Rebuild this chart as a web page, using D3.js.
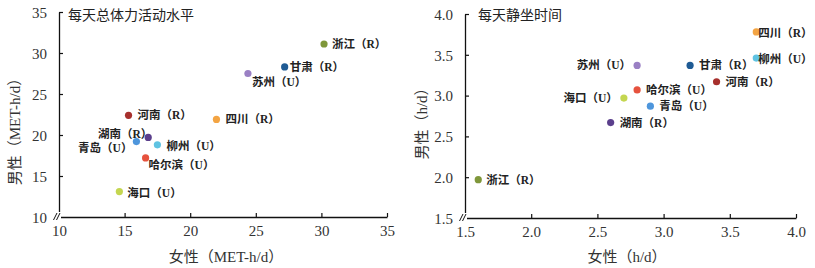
<!DOCTYPE html>
<html>
<head>
<meta charset="utf-8">
<script src="https://cdn.jsdelivr.net/npm/d3@7/dist/d3.min.js"></script>
<style>
  html, body { margin: 0; padding: 0; background: #fff; }
  svg { display: block; }
</style>
</head>
<body>
<svg id="chart" width="815" height="268"></svg>
<script>
// ---- data ----
const cities = ["浙江", "甘肃", "苏州", "河南", "四川", "湖南", "青岛", "柳州", "哈尔滨", "海口"];
const areaType = ["R", "R", "U", "R", "R", "R", "U", "U", "U", "U"];
const paFemale = [30.2, 27.2, 24.4, 15.3, 22.0, 16.8, 15.9, 17.5, 16.6, 14.6];
const paMale   = [31.1, 28.3, 27.5, 22.4, 21.9, 19.7, 19.2, 18.8, 17.2, 13.1];
const sitFemale = [1.6, 3.2, 2.8, 3.4, 3.7, 2.6, 2.9, 3.7, 2.8, 2.7];
const sitMale   = [1.97, 3.37, 3.37, 3.17, 3.78, 2.67, 2.87, 3.46, 3.07, 2.97];
const paTicks = [10, 15, 20, 25, 30, 35];
const sitTicks = [1.5, 2.0, 2.5, 3.0, 3.5, 4.0];
const colors = ["#7f973a", "#1f5b94", "#9a80c4", "#a7302d", "#f3a443", "#5b3f8c", "#4e96dc", "#5fc3e2", "#e6523e", "#c4d650"];

// ---- label placement (style) ----
// [anchor, dx, dy]
const paLabelPos = [
  ["start", 8, 0], ["start", 5, 0], ["start", 4, 8], ["start", 9, 0], ["start", 9, 0],
  ["end", 4, -3], ["end", -4, 6], ["start", 9, 1], ["start", 3, 7], ["start", 8, 1]
];
const sitLabelPos = [
  ["start", 8, 0], ["start", 9, 0], ["end", -6, 0], ["start", 9, 0], ["start", 2, 1],
  ["start", 9, 0], ["start", 9, 0], ["start", 2, 1], ["start", 9, 0], ["end", -6, 0]
];

const svg = d3.select("#chart");
const CJK = "'Noto Sans CJK SC', 'Noto Sans', sans-serif";
const SERIF = "'Liberation Serif', 'DejaVu Serif', " + CJK;

function panel(opts) {
  const x = d3.scaleLinear().domain(opts.xDomain).range(opts.xRange);
  const y = d3.scaleLinear().domain(opts.yDomain).range(opts.yRange);
  const g = svg.append("g");

  const fmt = opts.fmt;
  const xAxis = d3.axisBottom(x).tickValues(opts.ticks).tickFormat(fmt)
    .tickSizeInner(-4).tickSizeOuter(0).tickPadding(8);
  const yAxis = d3.axisLeft(y).tickValues(opts.ticks).tickFormat(fmt)
    .tickSizeInner(-4).tickSizeOuter(0).tickPadding(12);

  const gx = g.append("g").attr("transform", `translate(0,${opts.yRange[0]})`).call(xAxis);
  const gy = g.append("g").attr("transform", `translate(${opts.xRange[0]},0)`).call(yAxis);
  [gx, gy].forEach(a => {
    a.selectAll("path.domain").attr("stroke", "#111").attr("stroke-width", 1.3);
    a.selectAll(".tick line").attr("stroke", "#111").attr("stroke-width", 1.2);
    a.selectAll(".tick text").attr("font-family", SERIF).attr("font-size", 15).attr("fill", "#333");
  });
  // hide the first tick marks at the origin
  gx.selectAll(".tick").filter((d, i) => i === 0).select("line").remove();
  gy.selectAll(".tick").filter((d, i) => i === 0).select("line").remove();
  // y tick labels vertical alignment
  gy.selectAll(".tick text").attr("dy", "0.35em");
  gx.selectAll(".tick text").attr("dy", "0.71em");

  // axis break mark at origin
  const ox = opts.xRange[0], oy = opts.yRange[0];
  g.append("rect").attr("x", ox - 2).attr("y", oy - 5).attr("width", 4).attr("height", 7).attr("fill", "#fff");
  g.append("rect").attr("x", ox - 2).attr("y", oy - 2).attr("width", 3.5).attr("height", 4).attr("fill", "#fff");
  [[-4, 0], [-1, 0]].forEach(([dx]) => {
    g.append("line")
      .attr("x1", ox + dx - 1.5).attr("y1", oy + 3)
      .attr("x2", ox + dx + 2).attr("y2", oy - 4)
      .attr("stroke", "#111").attr("stroke-width", 1);
  });

  // title
  g.append("text").attr("x", opts.titleX).attr("y", 20)
    .attr("font-family", CJK).attr("font-size", 14).attr("fill", "#222")
    .text(opts.title);

  // axis titles
  g.append("text").attr("x", opts.xTitleX).attr("y", 262)
    .attr("text-anchor", "middle").attr("font-family", SERIF).attr("font-size", 15).attr("fill", "#333")
    .text(opts.xTitle);
  g.append("text")
    .attr("transform", `translate(${opts.yTitleX},${opts.yTitleY}) rotate(-90)`)
    .attr("text-anchor", "middle").attr("font-family", SERIF).attr("font-size", 15).attr("fill", "#333")
    .text(opts.yTitle);

  // points
  const idx = d3.range(cities.length);
  g.selectAll("circle.pt").data(idx).join("circle")
    .attr("class", "pt")
    .attr("cx", i => x(opts.xs[i])).attr("cy", i => y(opts.ys[i]))
    .attr("r", 3.6).attr("fill", i => colors[i]);

  g.selectAll("text.lbl").data(idx).join("text")
    .attr("class", "lbl")
    .attr("x", i => x(opts.xs[i]) + opts.pos[i][1])
    .attr("y", i => y(opts.ys[i]) + opts.pos[i][2] + 4)
    .attr("text-anchor", i => opts.pos[i][0])
    .attr("font-family", SERIF).attr("font-size", 11.5).attr("font-weight", "bold").attr("fill", "#222")
    .text(i => `${cities[i]}（${areaType[i]}）`);
}

panel({
  xDomain: [10, 35], yDomain: [10, 35],
  xRange: [59, 387], yRange: [217, 12],
  ticks: paTicks, fmt: d3.format("d"),
  xs: paFemale, ys: paMale, pos: paLabelPos,
  title: "每天总体力活动水平", titleX: 68,
  xTitle: "女性（MET-h/d）", xTitleX: 226,
  yTitle: "男性（MET-h/d）", yTitleX: 20, yTitleY: 128
});

panel({
  xDomain: [1.5, 4.0], yDomain: [1.5, 4.0],
  xRange: [465, 796], yRange: [218, 14],
  ticks: sitTicks, fmt: d3.format(".1f"),
  xs: sitFemale, ys: sitMale, pos: sitLabelPos,
  title: "每天静坐时间", titleX: 478,
  xTitle: "女性（h/d）", xTitleX: 627,
  yTitle: "男性（h/d）", yTitleX: 427, yTitleY: 120
});
</script>
</body>
</html>
